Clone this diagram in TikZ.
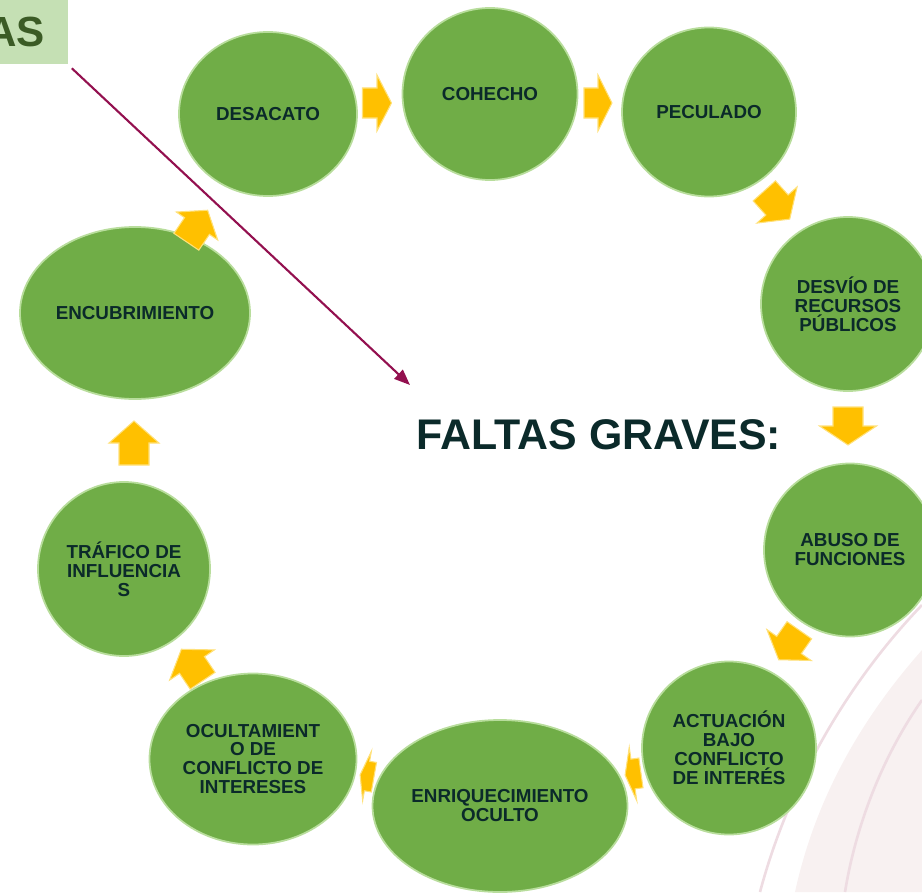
\documentclass[tikz,border=0pt]{standalone}
\usepackage{fontspec}
\setmainfont{Liberation Sans}
\usetikzlibrary{shapes.geometric,arrows.meta}

\definecolor{leaf}{HTML}{70AD47}
\definecolor{leafrim}{HTML}{B8DD9C}
\definecolor{ink}{HTML}{0B2A2A}
\definecolor{gold}{HTML}{FFC000}
\definecolor{goldlight}{HTML}{FFE17A}
\definecolor{boxgreen}{HTML}{C5E0B4}
\definecolor{boxink}{HTML}{3B5B25}
\definecolor{wine}{HTML}{93104F}
\definecolor{blush}{HTML}{F8F1F1}
\definecolor{blushline}{HTML}{EEDCE2}

\tikzset{
	falta/.style 2 args={ellipse, fill=leaf, draw=leafrim, line width=1pt, inner sep=0pt,
		minimum width=#1*0.02cm, minimum height=#2*0.02cm, align=center, text=ink,
		font=\bfseries\fontsize{10.7}{10.8}\selectfont},
	pics/flecha/.style 2 args={code={
		\filldraw[fill=gold, draw=goldlight, line width=0.6pt]
			(-#1/2,-15) -- (0,-15) -- (0,-#2/2) -- (#1/2,0) -- (0,#2/2) -- (0,15) -- (-#1/2,15) -- cycle;
	}},
}

\begin{document}
\begin{tikzpicture}[x=0.02cm,y=-0.02cm]
	\useasboundingbox (0,0) rectangle (922,892);
	% background swirl
	\begin{scope}
		\clip (0,0) rectangle (922,892);
		\fill[blush] (922,650) .. controls (860,720) and (815,800) .. (795,892) -- (922,892) -- cycle;
		\draw[blushline, line width=1.5pt] (922,605) .. controls (850,680) and (790,780) .. (760,892);
		\draw[blushline, line width=1.5pt] (922,700) .. controls (880,760) and (855,830) .. (845,892);
	\end{scope}

	\node[fill=boxgreen, text=boxink, font=\bfseries\fontsize{24}{24}\selectfont,
		minimum height=64*0.02cm, inner xsep=0pt, anchor=north east] (lbl) at (68,0) {AS\kern13pt};

	\node[falta={178}{164}] (desacato) at (268,114) {DESACATO};
	\node[falta={175}{172}] (cohecho) at (490,94) {COHECHO};
	\node[falta={174}{169}] (peculado) at (709,112) {PECULADO};
	\node[falta={174}{174}] (desvio) at (848,304) {DESVÍO DE\\RECURSOS\\PÚBLICOS};
	\node[falta={172}{173}] (abuso) at (850,550) {ABUSO DE\\FUNCIONES};
	\node[falta={174}{173}] (actuacion) at (729,748) {ACTUACIÓN\\BAJO\\CONFLICTO\\DE INTERÉS};
	\node[falta={255}{172}] (enriq) at (500,806) {ENRIQUECIMIENTO\\OCULTO};
	\node[falta={207}{171}] (ocultam) at (253,759) {OCULTAMIENT\\O DE\\CONFLICTO DE\\INTERESES};
	\node[falta={172}{174}] (trafico) at (124,569) {TRÁFICO DE\\INFLUENCIA\\S};
	\node[falta={230}{172}] (encubr) at (135,313) {ENCUBRIMIENTO};

	\pic at (377,103) {flecha={29}{56}};
	\pic at (598,103) {flecha={28}{56}};
	\pic[rotate=-48] at (777,205) {flecha={38}{54}};
	\pic[rotate=-90] at (848,426) {flecha={38}{57}};
	\pic[rotate=-125] at (789,645) {flecha={36}{54}};
	\pic[rotate=188] at (633,774) {flecha={16}{54}};
	\pic[rotate=170] at (367,776) {flecha={14}{50}};
	\pic[rotate=124] at (192,665) {flecha={38}{54}};
	\pic[rotate=90] at (134,443) {flecha={44}{50}};
	\pic[rotate=56] at (197,226) {flecha={38}{50}};

	\node[text=ink, font=\bfseries\fontsize{24.4}{27}\selectfont] (titulo) at (599,435) {FALTAS GRAVES:};

	\coordinate (punta) at (410,385);
	\draw[wine, line width=1.2pt, -{Triangle[length=9pt,width=7pt]}, shorten <=3pt] (lbl.south east) -- (punta);
\end{tikzpicture}
\end{document}
